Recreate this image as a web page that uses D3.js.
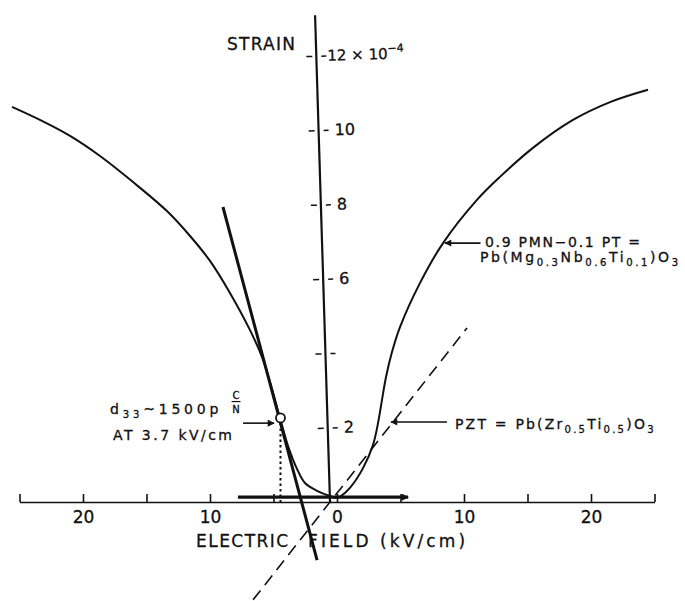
<!DOCTYPE html>
<html><head><meta charset="utf-8">
<script src="https://cdn.jsdelivr.net/npm/d3@7"></script>
<style>
body{margin:0;background:#fff}
svg{display:block;background:#fff}
text{font-family:"DejaVu Sans","Liberation Sans",sans-serif;fill:#111;stroke:#111;stroke-width:0.3}
</style>
</head><body>
<svg id="chart" width="685" height="601"></svg>
<script>
// ---- data (electric field kV/cm, strain x10^-4) ----
const pmnCurve = [[-25.59,10.62],[-23.39,10.27],[-21.02,9.84],[-18.66,9.30],[-16.06,8.60],[-13.39,7.82],[-11.57,7.15],[-10.0,6.48],[-8.43,5.62],[-6.85,4.62],[-5.91,3.90],[-5.28,3.23],[-4.49,2.26],[-3.86,1.51],[-3.15,0.89],[-2.52,0.51],[-1.57,0.30],[-0.55,0.16],[0,0.11],
  [0.31,0.16],[1.02,0.38],[2.05,0.91],[2.83,1.53],[3.23,2.12],[3.54,2.74],[3.86,3.36],[4.33,4.03],[4.96,4.70],[6.54,5.89],[8.35,6.96],[11.02,8.12],[12.83,8.74],[15.43,9.52],[18.58,10.27],[21.50,10.75],[24.49,11.08]];
const tangentLine = [[-8.98,7.93],[-1.57,-1.56]];
const pztLine = [[-6.61,-2.63],[10.24,4.68]];
const d33Point = [-4.45,2.26];
const hysteresisBar = [[-7.8,0.13],[5.6,0.13]];
const xTicks = [-25,-20,-15,-10,-5,0,5,10,15,20,25];
const xLabelValues = [-20,-10,0,10,20];
const xLabelText = ["20","10","0","10","20"];
const yTicks = [2,4,6,8,10,12];
const yLabelText = ["2","","6","8","10","12"];
const yAxisTop = 13.09;

const svg = d3.select("#chart");
const x = d3.scaleLinear().domain([-25,25]).range([19.5,654.5]);
const y = d3.scaleLinear().domain([0,12]).range([502,55.6]);
const ink = "#111";

const defs = svg.append("defs");
defs.append("marker").attr("id","ah").attr("viewBox","0 0 10 10")
  .attr("refX",9).attr("refY",5).attr("markerWidth",9).attr("markerHeight",7)
  .attr("markerUnits","userSpaceOnUse").attr("orient","auto")
  .append("path").attr("d","M0,0L10,5L0,10z").attr("fill",ink);

// x axis
const gx = svg.append("g").attr("transform",`translate(0,${y(0)})`)
  .call(d3.axisBottom(x).tickValues(xTicks).tickSizeInner(-8).tickSizeOuter(0).tickPadding(9)
    .tickFormat(d => { const i = xLabelValues.indexOf(d); return i < 0 ? "" : xLabelText[i]; }));
gx.attr("font-family","DejaVu Sans").attr("font-size",17);
gx.select(".domain").attr("stroke",ink).attr("stroke-width",1.6);
gx.selectAll(".tick line").attr("stroke",ink).attr("stroke-width",1.6);
gx.selectAll(".tick text").attr("fill",ink);

// y axis (slightly tilted as in the scanned figure)
const gy = svg.append("g").attr("transform",`translate(${x(-0.55)},0) rotate(-1.76,0,${y(0)})`)
  .call(d3.axisRight(y).tickValues(yTicks).tickSize(10).tickPadding(6)
    .tickFormat(d => yLabelText[yTicks.indexOf(d)]));
gy.attr("font-family","DejaVu Sans").attr("font-size",16);
gy.select(".domain").remove();
gy.selectAll(".tick line").attr("x1",-10).attr("x2",10).attr("stroke",ink)
  .attr("stroke-width",1.5).attr("stroke-dasharray","6,9,6");
gy.selectAll(".tick text").attr("fill",ink);
gy.selectAll(".tick").filter(d => d === 12).select("text")
  .text(null).call(t => {
    t.attr("font-size",15).attr("x",11);
    t.append("tspan").text("12 × 10");
    t.append("tspan").attr("dy",-7).attr("font-size",11).text("−4");
  });
gy.append("line").attr("x1",0).attr("x2",0).attr("y1",y(yAxisTop)).attr("y2",y(0))
  .attr("stroke",ink).attr("stroke-width",2.2);

const line = d3.line().x(d => x(d[0])).y(d => y(d[1]));

// PMN-PT curve
svg.append("path").datum(pmnCurve)
  .attr("d", d3.line().x(d => x(d[0])).y(d => y(d[1])).curve(d3.curveCatmullRom.alpha(0.5)))
  .attr("fill","none").attr("stroke",ink).attr("stroke-width",2);

// tangent line
svg.append("path").datum(tangentLine).attr("d",line)
  .attr("fill","none").attr("stroke",ink).attr("stroke-width",3);
// PZT dashed line
svg.append("path").datum(pztLine).attr("d",line)
  .attr("fill","none").attr("stroke",ink).attr("stroke-width",1.6).attr("stroke-dasharray","12,7");
// hysteresis bar near axis
svg.append("path").datum(hysteresisBar).attr("d",line)
  .attr("fill","none").attr("stroke",ink).attr("stroke-width",3.2).attr("marker-end","url(#ah)");

// d33 point + dotted drop line
svg.append("line").attr("x1",x(d33Point[0])).attr("x2",x(d33Point[0]))
  .attr("y1",y(d33Point[1])+5).attr("y2",y(0))
  .attr("stroke",ink).attr("stroke-width",2).attr("stroke-dasharray","2.5,3");
svg.append("circle").attr("cx",x(d33Point[0])).attr("cy",y(d33Point[1])).attr("r",4.5)
  .attr("fill","#fff").attr("stroke",ink).attr("stroke-width",1.8);

// annotation arrows
const arrows = [
  [[11.3,6.96],[8.5,6.96]],
  [[8.66,2.15],[4.25,2.15]],
  [[-7.4,2.12],[-4.96,2.12]]
];
arrows.forEach(a => svg.append("path").datum(a).attr("d",line)
  .attr("stroke",ink).attr("stroke-width",1.6).attr("fill","none").attr("marker-end","url(#ah)"));

// texts
function txt(E,S,str,size,opts={}) {
  const t = svg.append("text").attr("x",x(E)).attr("y",y(S)).attr("font-size",size).text(str);
  if (opts.anchor) t.attr("text-anchor",opts.anchor);
  if (opts.len) t.attr("textLength",opts.len).attr("lengthAdjust","spacing");
  if (opts.ls) t.attr("letter-spacing",opts.ls);
  return t;
}
txt(-3.31,12.15,"STRAIN",17,{anchor:"end",len:68});
txt(-11.1,-1.21,"ELECTRIC",17,{len:92});
txt(-2.28,-1.21,"FIELD (kV/cm)",17,{len:157});
txt(11.65,6.85,"0.9 PMN−0.1 PT =",14,{len:155});

function chem(E,S,parts,size,ls){
  const t = svg.append("text").attr("x",x(E)).attr("y",y(S)).attr("font-size",size).attr("letter-spacing",ls);
  let sub = false;
  parts.forEach(p => {
    const isSub = !!p[1];
    const dy = isSub && !sub ? 4 : (!isSub && sub ? -4 : 0);
    const ts = t.append("tspan").attr("dy",dy).text(p[0]);
    if (isSub) ts.attr("font-size",size*0.72);
    sub = isSub;
  });
  return t;
}
chem(11.26,6.45,[["Pb(Mg"],["0.3",1],["Nb"],["0.6",1],["Ti"],["0.1",1],[")O"],["3",1]],14,2.6);
chem(9.29,1.96,[["PZT = Pb(Zr"],["0.5",1],["Ti"],["0.5",1],[")O"],["3",1]],14,2.2);
chem(-17.87,2.37,[["d"],["33",1],["~1500p"]],14,3.8);
txt(-17.64,1.67,"AT 3.7 kV/cm",14,{len:119});
// fraction C/N
txt(-7.95,2.77,"C",10,{anchor:"middle"});
txt(-7.95,2.40,"N",10,{anchor:"middle"});
svg.append("path").datum([[-8.3,2.70],[-7.6,2.70]]).attr("d",line).attr("stroke",ink).attr("stroke-width",1.2);
</script>
</body></html>
